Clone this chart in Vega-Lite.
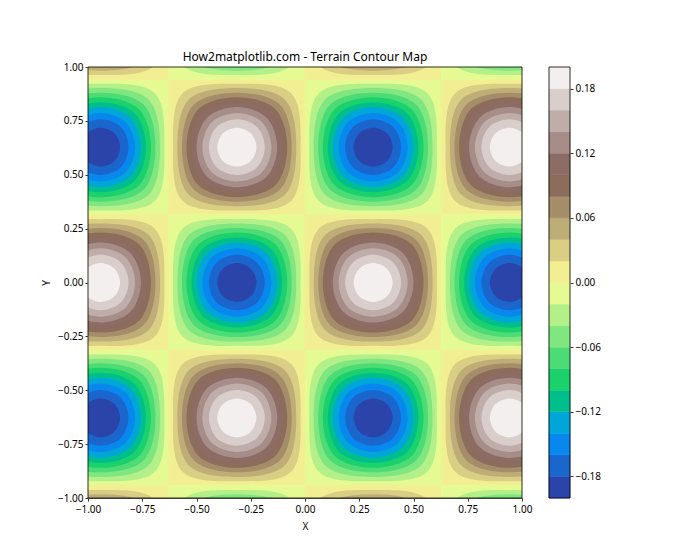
{"$schema":"https://vega.github.io/schema/vega-lite/v6.json","background":"white","padding":{"left":41,"top":51,"right":0,"bottom":0},"spacing":16,
"config":{"font":"Noto Sans","view":{"stroke":null},"axis":{"grid":false,"labelFlush":false,"domainColor":"#000","tickColor":"#000","labelColor":"#000","titleColor":"#000","labelFontSize":10,"titleFontSize":10,"titleFontWeight":"normal","tickSize":3,"labelPadding":2,"titlePadding":6,"domainWidth":0.8,"tickWidth":0.8},"title":{"fontSize":12,"fontWeight":"normal","color":"#000"}},
"datasets":{"frame":[{"x":-1,"x2":1,"y":-1,"y2":1}],"base":[{"x":-1,"x2":-0.628,"y":0.314,"y2":0.942,"b":-0.01},{"x":-0.628,"x2":0,"y":0.314,"y2":0.942,"b":0.01},{"x":0,"x2":0.628,"y":0.314,"y2":0.942,"b":-0.01},{"x":0.628,"x2":1,"y":0.314,"y2":0.942,"b":0.01},{"x":-1,"x2":-0.628,"y":-0.314,"y2":0.314,"b":0.01},{"x":-0.628,"x2":0,"y":-0.314,"y2":0.314,"b":-0.01},{"x":0,"x2":0.628,"y":-0.314,"y2":0.314,"b":0.01},{"x":0.628,"x2":1,"y":-0.314,"y2":0.314,"b":-0.01},{"x":-1,"x2":-0.628,"y":-0.942,"y2":-0.314,"b":-0.01},{"x":-0.628,"x2":0,"y":-0.942,"y2":-0.314,"b":0.01},{"x":0,"x2":0.628,"y":-0.942,"y2":-0.314,"b":-0.01},{"x":0.628,"x2":1,"y":-0.942,"y2":-0.314,"b":0.01},{"x":-1,"x2":-0.628,"y":0.942,"y2":1,"b":0.01},{"x":-0.628,"x2":0,"y":0.942,"y2":1,"b":-0.01},{"x":0,"x2":0.628,"y":0.942,"y2":1,"b":0.01},{"x":0.628,"x2":1,"y":0.942,"y2":1,"b":-0.01},{"x":-1,"x2":-0.628,"y":-1,"y2":-0.942,"b":0.01},{"x":-0.628,"x2":0,"y":-1,"y2":-0.942,"b":-0.01},{"x":0,"x2":0.628,"y":-1,"y2":-0.942,"b":0.01},{"x":0.628,"x2":1,"y":-1,"y2":-0.942,"b":-0.01}],
"lines":[
{"c":11,"b":-0.03,"x":-0.648,"y":0.628},{"c":11,"b":-0.03,"x":-0.692,"y":0.878},{"c":11,"b":-0.03,"x":-0.942,"y":0.922},{"c":11,"b":-0.03,"x":-1.192,"y":0.878},{"c":11,"b":-0.03,"x":-1.236,"y":0.628},{"c":11,"b":-0.03,"x":-1.192,"y":0.378},{"c":11,"b":-0.03,"x":-0.942,"y":0.334},{"c":11,"b":-0.03,"x":-0.692,"y":0.378},
{"c":12,"b":-0.05,"x":-0.668,"y":0.628},{"c":12,"b":-0.05,"x":-0.721,"y":0.849},{"c":12,"b":-0.05,"x":-0.942,"y":0.902},{"c":12,"b":-0.05,"x":-1.163,"y":0.849},{"c":12,"b":-0.05,"x":-1.216,"y":0.628},{"c":12,"b":-0.05,"x":-1.163,"y":0.407},{"c":12,"b":-0.05,"x":-0.942,"y":0.354},{"c":12,"b":-0.05,"x":-0.721,"y":0.407},
{"c":13,"b":-0.07,"x":-0.689,"y":0.628},{"c":13,"b":-0.07,"x":-0.744,"y":0.826},{"c":13,"b":-0.07,"x":-0.942,"y":0.881},{"c":13,"b":-0.07,"x":-1.14,"y":0.826},{"c":13,"b":-0.07,"x":-1.195,"y":0.628},{"c":13,"b":-0.07,"x":-1.14,"y":0.43},{"c":13,"b":-0.07,"x":-0.942,"y":0.375},{"c":13,"b":-0.07,"x":-0.744,"y":0.43},
{"c":14,"b":-0.09,"x":-0.71,"y":0.628},{"c":14,"b":-0.09,"x":-0.765,"y":0.805},{"c":14,"b":-0.09,"x":-0.942,"y":0.86},{"c":14,"b":-0.09,"x":-1.119,"y":0.805},{"c":14,"b":-0.09,"x":-1.174,"y":0.628},{"c":14,"b":-0.09,"x":-1.119,"y":0.451},{"c":14,"b":-0.09,"x":-0.942,"y":0.396},{"c":14,"b":-0.09,"x":-0.765,"y":0.451},
{"c":15,"b":-0.11,"x":-0.733,"y":0.628},{"c":15,"b":-0.11,"x":-0.785,"y":0.785},{"c":15,"b":-0.11,"x":-0.942,"y":0.837},{"c":15,"b":-0.11,"x":-1.099,"y":0.785},{"c":15,"b":-0.11,"x":-1.151,"y":0.628},{"c":15,"b":-0.11,"x":-1.099,"y":0.471},{"c":15,"b":-0.11,"x":-0.942,"y":0.419},{"c":15,"b":-0.11,"x":-0.785,"y":0.471},
{"c":16,"b":-0.13,"x":-0.756,"y":0.628},{"c":16,"b":-0.13,"x":-0.805,"y":0.765},{"c":16,"b":-0.13,"x":-0.942,"y":0.814},{"c":16,"b":-0.13,"x":-1.079,"y":0.765},{"c":16,"b":-0.13,"x":-1.128,"y":0.628},{"c":16,"b":-0.13,"x":-1.079,"y":0.491},{"c":16,"b":-0.13,"x":-0.942,"y":0.442},{"c":16,"b":-0.13,"x":-0.805,"y":0.491},
{"c":17,"b":-0.15,"x":-0.783,"y":0.628},{"c":17,"b":-0.15,"x":-0.826,"y":0.744},{"c":17,"b":-0.15,"x":-0.942,"y":0.787},{"c":17,"b":-0.15,"x":-1.058,"y":0.744},{"c":17,"b":-0.15,"x":-1.101,"y":0.628},{"c":17,"b":-0.15,"x":-1.058,"y":0.512},{"c":17,"b":-0.15,"x":-0.942,"y":0.469},{"c":17,"b":-0.15,"x":-0.826,"y":0.512},
{"c":18,"b":-0.17,"x":-0.813,"y":0.628},{"c":18,"b":-0.17,"x":-0.849,"y":0.721},{"c":18,"b":-0.17,"x":-0.942,"y":0.757},{"c":18,"b":-0.17,"x":-1.035,"y":0.721},{"c":18,"b":-0.17,"x":-1.071,"y":0.628},{"c":18,"b":-0.17,"x":-1.035,"y":0.535},{"c":18,"b":-0.17,"x":-0.942,"y":0.499},{"c":18,"b":-0.17,"x":-0.849,"y":0.535},
{"c":19,"b":-0.19,"x":-0.852,"y":0.628},{"c":19,"b":-0.19,"x":-0.878,"y":0.692},{"c":19,"b":-0.19,"x":-0.942,"y":0.718},{"c":19,"b":-0.19,"x":-1.006,"y":0.692},{"c":19,"b":-0.19,"x":-1.032,"y":0.628},{"c":19,"b":-0.19,"x":-1.006,"y":0.564},{"c":19,"b":-0.19,"x":-0.942,"y":0.538},{"c":19,"b":-0.19,"x":-0.878,"y":0.564},
{"c":21,"b":0.03,"x":-0.02,"y":0.628},{"c":21,"b":0.03,"x":-0.064,"y":0.878},{"c":21,"b":0.03,"x":-0.314,"y":0.922},{"c":21,"b":0.03,"x":-0.564,"y":0.878},{"c":21,"b":0.03,"x":-0.608,"y":0.628},{"c":21,"b":0.03,"x":-0.564,"y":0.378},{"c":21,"b":0.03,"x":-0.314,"y":0.334},{"c":21,"b":0.03,"x":-0.064,"y":0.378},
{"c":22,"b":0.05,"x":-0.04,"y":0.628},{"c":22,"b":0.05,"x":-0.093,"y":0.849},{"c":22,"b":0.05,"x":-0.314,"y":0.902},{"c":22,"b":0.05,"x":-0.535,"y":0.849},{"c":22,"b":0.05,"x":-0.588,"y":0.628},{"c":22,"b":0.05,"x":-0.535,"y":0.407},{"c":22,"b":0.05,"x":-0.314,"y":0.354},{"c":22,"b":0.05,"x":-0.093,"y":0.407},
{"c":23,"b":0.07,"x":-0.061,"y":0.628},{"c":23,"b":0.07,"x":-0.116,"y":0.826},{"c":23,"b":0.07,"x":-0.314,"y":0.881},{"c":23,"b":0.07,"x":-0.512,"y":0.826},{"c":23,"b":0.07,"x":-0.567,"y":0.628},{"c":23,"b":0.07,"x":-0.512,"y":0.43},{"c":23,"b":0.07,"x":-0.314,"y":0.375},{"c":23,"b":0.07,"x":-0.116,"y":0.43},
{"c":24,"b":0.09,"x":-0.082,"y":0.628},{"c":24,"b":0.09,"x":-0.137,"y":0.805},{"c":24,"b":0.09,"x":-0.314,"y":0.86},{"c":24,"b":0.09,"x":-0.491,"y":0.805},{"c":24,"b":0.09,"x":-0.546,"y":0.628},{"c":24,"b":0.09,"x":-0.491,"y":0.451},{"c":24,"b":0.09,"x":-0.314,"y":0.396},{"c":24,"b":0.09,"x":-0.137,"y":0.451},
{"c":25,"b":0.11,"x":-0.105,"y":0.628},{"c":25,"b":0.11,"x":-0.157,"y":0.785},{"c":25,"b":0.11,"x":-0.314,"y":0.837},{"c":25,"b":0.11,"x":-0.471,"y":0.785},{"c":25,"b":0.11,"x":-0.523,"y":0.628},{"c":25,"b":0.11,"x":-0.471,"y":0.471},{"c":25,"b":0.11,"x":-0.314,"y":0.419},{"c":25,"b":0.11,"x":-0.157,"y":0.471},
{"c":26,"b":0.13,"x":-0.128,"y":0.628},{"c":26,"b":0.13,"x":-0.177,"y":0.765},{"c":26,"b":0.13,"x":-0.314,"y":0.814},{"c":26,"b":0.13,"x":-0.451,"y":0.765},{"c":26,"b":0.13,"x":-0.5,"y":0.628},{"c":26,"b":0.13,"x":-0.451,"y":0.491},{"c":26,"b":0.13,"x":-0.314,"y":0.442},{"c":26,"b":0.13,"x":-0.177,"y":0.491},
{"c":27,"b":0.15,"x":-0.155,"y":0.628},{"c":27,"b":0.15,"x":-0.198,"y":0.744},{"c":27,"b":0.15,"x":-0.314,"y":0.787},{"c":27,"b":0.15,"x":-0.43,"y":0.744},{"c":27,"b":0.15,"x":-0.473,"y":0.628},{"c":27,"b":0.15,"x":-0.43,"y":0.512},{"c":27,"b":0.15,"x":-0.314,"y":0.469},{"c":27,"b":0.15,"x":-0.198,"y":0.512},
{"c":28,"b":0.17,"x":-0.185,"y":0.628},{"c":28,"b":0.17,"x":-0.221,"y":0.721},{"c":28,"b":0.17,"x":-0.314,"y":0.757},{"c":28,"b":0.17,"x":-0.407,"y":0.721},{"c":28,"b":0.17,"x":-0.443,"y":0.628},{"c":28,"b":0.17,"x":-0.407,"y":0.535},{"c":28,"b":0.17,"x":-0.314,"y":0.499},{"c":28,"b":0.17,"x":-0.221,"y":0.535},
{"c":29,"b":0.19,"x":-0.224,"y":0.628},{"c":29,"b":0.19,"x":-0.25,"y":0.692},{"c":29,"b":0.19,"x":-0.314,"y":0.718},{"c":29,"b":0.19,"x":-0.378,"y":0.692},{"c":29,"b":0.19,"x":-0.404,"y":0.628},{"c":29,"b":0.19,"x":-0.378,"y":0.564},{"c":29,"b":0.19,"x":-0.314,"y":0.538},{"c":29,"b":0.19,"x":-0.25,"y":0.564},
{"c":31,"b":-0.03,"x":0.608,"y":0.628},{"c":31,"b":-0.03,"x":0.564,"y":0.878},{"c":31,"b":-0.03,"x":0.314,"y":0.922},{"c":31,"b":-0.03,"x":0.064,"y":0.878},{"c":31,"b":-0.03,"x":0.02,"y":0.628},{"c":31,"b":-0.03,"x":0.064,"y":0.378},{"c":31,"b":-0.03,"x":0.314,"y":0.334},{"c":31,"b":-0.03,"x":0.564,"y":0.378},
{"c":32,"b":-0.05,"x":0.588,"y":0.628},{"c":32,"b":-0.05,"x":0.535,"y":0.849},{"c":32,"b":-0.05,"x":0.314,"y":0.902},{"c":32,"b":-0.05,"x":0.093,"y":0.849},{"c":32,"b":-0.05,"x":0.04,"y":0.628},{"c":32,"b":-0.05,"x":0.093,"y":0.407},{"c":32,"b":-0.05,"x":0.314,"y":0.354},{"c":32,"b":-0.05,"x":0.535,"y":0.407},
{"c":33,"b":-0.07,"x":0.567,"y":0.628},{"c":33,"b":-0.07,"x":0.512,"y":0.826},{"c":33,"b":-0.07,"x":0.314,"y":0.881},{"c":33,"b":-0.07,"x":0.116,"y":0.826},{"c":33,"b":-0.07,"x":0.061,"y":0.628},{"c":33,"b":-0.07,"x":0.116,"y":0.43},{"c":33,"b":-0.07,"x":0.314,"y":0.375},{"c":33,"b":-0.07,"x":0.512,"y":0.43},
{"c":34,"b":-0.09,"x":0.546,"y":0.628},{"c":34,"b":-0.09,"x":0.491,"y":0.805},{"c":34,"b":-0.09,"x":0.314,"y":0.86},{"c":34,"b":-0.09,"x":0.137,"y":0.805},{"c":34,"b":-0.09,"x":0.082,"y":0.628},{"c":34,"b":-0.09,"x":0.137,"y":0.451},{"c":34,"b":-0.09,"x":0.314,"y":0.396},{"c":34,"b":-0.09,"x":0.491,"y":0.451},
{"c":35,"b":-0.11,"x":0.523,"y":0.628},{"c":35,"b":-0.11,"x":0.471,"y":0.785},{"c":35,"b":-0.11,"x":0.314,"y":0.837},{"c":35,"b":-0.11,"x":0.157,"y":0.785},{"c":35,"b":-0.11,"x":0.105,"y":0.628},{"c":35,"b":-0.11,"x":0.157,"y":0.471},{"c":35,"b":-0.11,"x":0.314,"y":0.419},{"c":35,"b":-0.11,"x":0.471,"y":0.471},
{"c":36,"b":-0.13,"x":0.5,"y":0.628},{"c":36,"b":-0.13,"x":0.451,"y":0.765},{"c":36,"b":-0.13,"x":0.314,"y":0.814},{"c":36,"b":-0.13,"x":0.177,"y":0.765},{"c":36,"b":-0.13,"x":0.128,"y":0.628},{"c":36,"b":-0.13,"x":0.177,"y":0.491},{"c":36,"b":-0.13,"x":0.314,"y":0.442},{"c":36,"b":-0.13,"x":0.451,"y":0.491},
{"c":37,"b":-0.15,"x":0.473,"y":0.628},{"c":37,"b":-0.15,"x":0.43,"y":0.744},{"c":37,"b":-0.15,"x":0.314,"y":0.787},{"c":37,"b":-0.15,"x":0.198,"y":0.744},{"c":37,"b":-0.15,"x":0.155,"y":0.628},{"c":37,"b":-0.15,"x":0.198,"y":0.512},{"c":37,"b":-0.15,"x":0.314,"y":0.469},{"c":37,"b":-0.15,"x":0.43,"y":0.512},
{"c":38,"b":-0.17,"x":0.443,"y":0.628},{"c":38,"b":-0.17,"x":0.407,"y":0.721},{"c":38,"b":-0.17,"x":0.314,"y":0.757},{"c":38,"b":-0.17,"x":0.221,"y":0.721},{"c":38,"b":-0.17,"x":0.185,"y":0.628},{"c":38,"b":-0.17,"x":0.221,"y":0.535},{"c":38,"b":-0.17,"x":0.314,"y":0.499},{"c":38,"b":-0.17,"x":0.407,"y":0.535},
{"c":39,"b":-0.19,"x":0.404,"y":0.628},{"c":39,"b":-0.19,"x":0.378,"y":0.692},{"c":39,"b":-0.19,"x":0.314,"y":0.718},{"c":39,"b":-0.19,"x":0.25,"y":0.692},{"c":39,"b":-0.19,"x":0.224,"y":0.628},{"c":39,"b":-0.19,"x":0.25,"y":0.564},{"c":39,"b":-0.19,"x":0.314,"y":0.538},{"c":39,"b":-0.19,"x":0.378,"y":0.564},
{"c":41,"b":0.03,"x":1.236,"y":0.628},{"c":41,"b":0.03,"x":1.192,"y":0.878},{"c":41,"b":0.03,"x":0.942,"y":0.922},{"c":41,"b":0.03,"x":0.692,"y":0.878},{"c":41,"b":0.03,"x":0.648,"y":0.628},{"c":41,"b":0.03,"x":0.692,"y":0.378},{"c":41,"b":0.03,"x":0.942,"y":0.334},{"c":41,"b":0.03,"x":1.192,"y":0.378},
{"c":42,"b":0.05,"x":1.216,"y":0.628},{"c":42,"b":0.05,"x":1.163,"y":0.849},{"c":42,"b":0.05,"x":0.942,"y":0.902},{"c":42,"b":0.05,"x":0.721,"y":0.849},{"c":42,"b":0.05,"x":0.668,"y":0.628},{"c":42,"b":0.05,"x":0.721,"y":0.407},{"c":42,"b":0.05,"x":0.942,"y":0.354},{"c":42,"b":0.05,"x":1.163,"y":0.407},
{"c":43,"b":0.07,"x":1.195,"y":0.628},{"c":43,"b":0.07,"x":1.14,"y":0.826},{"c":43,"b":0.07,"x":0.942,"y":0.881},{"c":43,"b":0.07,"x":0.744,"y":0.826},{"c":43,"b":0.07,"x":0.689,"y":0.628},{"c":43,"b":0.07,"x":0.744,"y":0.43},{"c":43,"b":0.07,"x":0.942,"y":0.375},{"c":43,"b":0.07,"x":1.14,"y":0.43},
{"c":44,"b":0.09,"x":1.174,"y":0.628},{"c":44,"b":0.09,"x":1.119,"y":0.805},{"c":44,"b":0.09,"x":0.942,"y":0.86},{"c":44,"b":0.09,"x":0.765,"y":0.805},{"c":44,"b":0.09,"x":0.71,"y":0.628},{"c":44,"b":0.09,"x":0.765,"y":0.451},{"c":44,"b":0.09,"x":0.942,"y":0.396},{"c":44,"b":0.09,"x":1.119,"y":0.451},
{"c":45,"b":0.11,"x":1.151,"y":0.628},{"c":45,"b":0.11,"x":1.099,"y":0.785},{"c":45,"b":0.11,"x":0.942,"y":0.837},{"c":45,"b":0.11,"x":0.785,"y":0.785},{"c":45,"b":0.11,"x":0.733,"y":0.628},{"c":45,"b":0.11,"x":0.785,"y":0.471},{"c":45,"b":0.11,"x":0.942,"y":0.419},{"c":45,"b":0.11,"x":1.099,"y":0.471},
{"c":46,"b":0.13,"x":1.128,"y":0.628},{"c":46,"b":0.13,"x":1.079,"y":0.765},{"c":46,"b":0.13,"x":0.942,"y":0.814},{"c":46,"b":0.13,"x":0.805,"y":0.765},{"c":46,"b":0.13,"x":0.756,"y":0.628},{"c":46,"b":0.13,"x":0.805,"y":0.491},{"c":46,"b":0.13,"x":0.942,"y":0.442},{"c":46,"b":0.13,"x":1.079,"y":0.491},
{"c":47,"b":0.15,"x":1.101,"y":0.628},{"c":47,"b":0.15,"x":1.058,"y":0.744},{"c":47,"b":0.15,"x":0.942,"y":0.787},{"c":47,"b":0.15,"x":0.826,"y":0.744},{"c":47,"b":0.15,"x":0.783,"y":0.628},{"c":47,"b":0.15,"x":0.826,"y":0.512},{"c":47,"b":0.15,"x":0.942,"y":0.469},{"c":47,"b":0.15,"x":1.058,"y":0.512},
{"c":48,"b":0.17,"x":1.071,"y":0.628},{"c":48,"b":0.17,"x":1.035,"y":0.721},{"c":48,"b":0.17,"x":0.942,"y":0.757},{"c":48,"b":0.17,"x":0.849,"y":0.721},{"c":48,"b":0.17,"x":0.813,"y":0.628},{"c":48,"b":0.17,"x":0.849,"y":0.535},{"c":48,"b":0.17,"x":0.942,"y":0.499},{"c":48,"b":0.17,"x":1.035,"y":0.535},
{"c":49,"b":0.19,"x":1.032,"y":0.628},{"c":49,"b":0.19,"x":1.006,"y":0.692},{"c":49,"b":0.19,"x":0.942,"y":0.718},{"c":49,"b":0.19,"x":0.878,"y":0.692},{"c":49,"b":0.19,"x":0.852,"y":0.628},{"c":49,"b":0.19,"x":0.878,"y":0.564},{"c":49,"b":0.19,"x":0.942,"y":0.538},{"c":49,"b":0.19,"x":1.006,"y":0.564},
{"c":51,"b":0.03,"x":-0.648,"y":0},{"c":51,"b":0.03,"x":-0.692,"y":0.25},{"c":51,"b":0.03,"x":-0.942,"y":0.294},{"c":51,"b":0.03,"x":-1.192,"y":0.25},{"c":51,"b":0.03,"x":-1.236,"y":0},{"c":51,"b":0.03,"x":-1.192,"y":-0.25},{"c":51,"b":0.03,"x":-0.942,"y":-0.294},{"c":51,"b":0.03,"x":-0.692,"y":-0.25},
{"c":52,"b":0.05,"x":-0.668,"y":0},{"c":52,"b":0.05,"x":-0.721,"y":0.221},{"c":52,"b":0.05,"x":-0.942,"y":0.274},{"c":52,"b":0.05,"x":-1.163,"y":0.221},{"c":52,"b":0.05,"x":-1.216,"y":0},{"c":52,"b":0.05,"x":-1.163,"y":-0.221},{"c":52,"b":0.05,"x":-0.942,"y":-0.274},{"c":52,"b":0.05,"x":-0.721,"y":-0.221},
{"c":53,"b":0.07,"x":-0.689,"y":0},{"c":53,"b":0.07,"x":-0.744,"y":0.198},{"c":53,"b":0.07,"x":-0.942,"y":0.253},{"c":53,"b":0.07,"x":-1.14,"y":0.198},{"c":53,"b":0.07,"x":-1.195,"y":0},{"c":53,"b":0.07,"x":-1.14,"y":-0.198},{"c":53,"b":0.07,"x":-0.942,"y":-0.253},{"c":53,"b":0.07,"x":-0.744,"y":-0.198},
{"c":54,"b":0.09,"x":-0.71,"y":0},{"c":54,"b":0.09,"x":-0.765,"y":0.177},{"c":54,"b":0.09,"x":-0.942,"y":0.232},{"c":54,"b":0.09,"x":-1.119,"y":0.177},{"c":54,"b":0.09,"x":-1.174,"y":0},{"c":54,"b":0.09,"x":-1.119,"y":-0.177},{"c":54,"b":0.09,"x":-0.942,"y":-0.232},{"c":54,"b":0.09,"x":-0.765,"y":-0.177},
{"c":55,"b":0.11,"x":-0.733,"y":0},{"c":55,"b":0.11,"x":-0.785,"y":0.157},{"c":55,"b":0.11,"x":-0.942,"y":0.209},{"c":55,"b":0.11,"x":-1.099,"y":0.157},{"c":55,"b":0.11,"x":-1.151,"y":0},{"c":55,"b":0.11,"x":-1.099,"y":-0.157},{"c":55,"b":0.11,"x":-0.942,"y":-0.209},{"c":55,"b":0.11,"x":-0.785,"y":-0.157},
{"c":56,"b":0.13,"x":-0.756,"y":0},{"c":56,"b":0.13,"x":-0.805,"y":0.137},{"c":56,"b":0.13,"x":-0.942,"y":0.186},{"c":56,"b":0.13,"x":-1.079,"y":0.137},{"c":56,"b":0.13,"x":-1.128,"y":0},{"c":56,"b":0.13,"x":-1.079,"y":-0.137},{"c":56,"b":0.13,"x":-0.942,"y":-0.186},{"c":56,"b":0.13,"x":-0.805,"y":-0.137},
{"c":57,"b":0.15,"x":-0.783,"y":0},{"c":57,"b":0.15,"x":-0.826,"y":0.116},{"c":57,"b":0.15,"x":-0.942,"y":0.159},{"c":57,"b":0.15,"x":-1.058,"y":0.116},{"c":57,"b":0.15,"x":-1.101,"y":0},{"c":57,"b":0.15,"x":-1.058,"y":-0.116},{"c":57,"b":0.15,"x":-0.942,"y":-0.159},{"c":57,"b":0.15,"x":-0.826,"y":-0.116},
{"c":58,"b":0.17,"x":-0.813,"y":0},{"c":58,"b":0.17,"x":-0.849,"y":0.093},{"c":58,"b":0.17,"x":-0.942,"y":0.129},{"c":58,"b":0.17,"x":-1.035,"y":0.093},{"c":58,"b":0.17,"x":-1.071,"y":0},{"c":58,"b":0.17,"x":-1.035,"y":-0.093},{"c":58,"b":0.17,"x":-0.942,"y":-0.129},{"c":58,"b":0.17,"x":-0.849,"y":-0.093},
{"c":59,"b":0.19,"x":-0.852,"y":0},{"c":59,"b":0.19,"x":-0.878,"y":0.064},{"c":59,"b":0.19,"x":-0.942,"y":0.09},{"c":59,"b":0.19,"x":-1.006,"y":0.064},{"c":59,"b":0.19,"x":-1.032,"y":0},{"c":59,"b":0.19,"x":-1.006,"y":-0.064},{"c":59,"b":0.19,"x":-0.942,"y":-0.09},{"c":59,"b":0.19,"x":-0.878,"y":-0.064},
{"c":61,"b":-0.03,"x":-0.02,"y":0},{"c":61,"b":-0.03,"x":-0.064,"y":0.25},{"c":61,"b":-0.03,"x":-0.314,"y":0.294},{"c":61,"b":-0.03,"x":-0.564,"y":0.25},{"c":61,"b":-0.03,"x":-0.608,"y":0},{"c":61,"b":-0.03,"x":-0.564,"y":-0.25},{"c":61,"b":-0.03,"x":-0.314,"y":-0.294},{"c":61,"b":-0.03,"x":-0.064,"y":-0.25},
{"c":62,"b":-0.05,"x":-0.04,"y":0},{"c":62,"b":-0.05,"x":-0.093,"y":0.221},{"c":62,"b":-0.05,"x":-0.314,"y":0.274},{"c":62,"b":-0.05,"x":-0.535,"y":0.221},{"c":62,"b":-0.05,"x":-0.588,"y":0},{"c":62,"b":-0.05,"x":-0.535,"y":-0.221},{"c":62,"b":-0.05,"x":-0.314,"y":-0.274},{"c":62,"b":-0.05,"x":-0.093,"y":-0.221},
{"c":63,"b":-0.07,"x":-0.061,"y":0},{"c":63,"b":-0.07,"x":-0.116,"y":0.198},{"c":63,"b":-0.07,"x":-0.314,"y":0.253},{"c":63,"b":-0.07,"x":-0.512,"y":0.198},{"c":63,"b":-0.07,"x":-0.567,"y":0},{"c":63,"b":-0.07,"x":-0.512,"y":-0.198},{"c":63,"b":-0.07,"x":-0.314,"y":-0.253},{"c":63,"b":-0.07,"x":-0.116,"y":-0.198},
{"c":64,"b":-0.09,"x":-0.082,"y":0},{"c":64,"b":-0.09,"x":-0.137,"y":0.177},{"c":64,"b":-0.09,"x":-0.314,"y":0.232},{"c":64,"b":-0.09,"x":-0.491,"y":0.177},{"c":64,"b":-0.09,"x":-0.546,"y":0},{"c":64,"b":-0.09,"x":-0.491,"y":-0.177},{"c":64,"b":-0.09,"x":-0.314,"y":-0.232},{"c":64,"b":-0.09,"x":-0.137,"y":-0.177},
{"c":65,"b":-0.11,"x":-0.105,"y":0},{"c":65,"b":-0.11,"x":-0.157,"y":0.157},{"c":65,"b":-0.11,"x":-0.314,"y":0.209},{"c":65,"b":-0.11,"x":-0.471,"y":0.157},{"c":65,"b":-0.11,"x":-0.523,"y":0},{"c":65,"b":-0.11,"x":-0.471,"y":-0.157},{"c":65,"b":-0.11,"x":-0.314,"y":-0.209},{"c":65,"b":-0.11,"x":-0.157,"y":-0.157},
{"c":66,"b":-0.13,"x":-0.128,"y":0},{"c":66,"b":-0.13,"x":-0.177,"y":0.137},{"c":66,"b":-0.13,"x":-0.314,"y":0.186},{"c":66,"b":-0.13,"x":-0.451,"y":0.137},{"c":66,"b":-0.13,"x":-0.5,"y":0},{"c":66,"b":-0.13,"x":-0.451,"y":-0.137},{"c":66,"b":-0.13,"x":-0.314,"y":-0.186},{"c":66,"b":-0.13,"x":-0.177,"y":-0.137},
{"c":67,"b":-0.15,"x":-0.155,"y":0},{"c":67,"b":-0.15,"x":-0.198,"y":0.116},{"c":67,"b":-0.15,"x":-0.314,"y":0.159},{"c":67,"b":-0.15,"x":-0.43,"y":0.116},{"c":67,"b":-0.15,"x":-0.473,"y":0},{"c":67,"b":-0.15,"x":-0.43,"y":-0.116},{"c":67,"b":-0.15,"x":-0.314,"y":-0.159},{"c":67,"b":-0.15,"x":-0.198,"y":-0.116},
{"c":68,"b":-0.17,"x":-0.185,"y":0},{"c":68,"b":-0.17,"x":-0.221,"y":0.093},{"c":68,"b":-0.17,"x":-0.314,"y":0.129},{"c":68,"b":-0.17,"x":-0.407,"y":0.093},{"c":68,"b":-0.17,"x":-0.443,"y":0},{"c":68,"b":-0.17,"x":-0.407,"y":-0.093},{"c":68,"b":-0.17,"x":-0.314,"y":-0.129},{"c":68,"b":-0.17,"x":-0.221,"y":-0.093},
{"c":69,"b":-0.19,"x":-0.224,"y":0},{"c":69,"b":-0.19,"x":-0.25,"y":0.064},{"c":69,"b":-0.19,"x":-0.314,"y":0.09},{"c":69,"b":-0.19,"x":-0.378,"y":0.064},{"c":69,"b":-0.19,"x":-0.404,"y":0},{"c":69,"b":-0.19,"x":-0.378,"y":-0.064},{"c":69,"b":-0.19,"x":-0.314,"y":-0.09},{"c":69,"b":-0.19,"x":-0.25,"y":-0.064},
{"c":71,"b":0.03,"x":0.608,"y":0},{"c":71,"b":0.03,"x":0.564,"y":0.25},{"c":71,"b":0.03,"x":0.314,"y":0.294},{"c":71,"b":0.03,"x":0.064,"y":0.25},{"c":71,"b":0.03,"x":0.02,"y":0},{"c":71,"b":0.03,"x":0.064,"y":-0.25},{"c":71,"b":0.03,"x":0.314,"y":-0.294},{"c":71,"b":0.03,"x":0.564,"y":-0.25},
{"c":72,"b":0.05,"x":0.588,"y":0},{"c":72,"b":0.05,"x":0.535,"y":0.221},{"c":72,"b":0.05,"x":0.314,"y":0.274},{"c":72,"b":0.05,"x":0.093,"y":0.221},{"c":72,"b":0.05,"x":0.04,"y":0},{"c":72,"b":0.05,"x":0.093,"y":-0.221},{"c":72,"b":0.05,"x":0.314,"y":-0.274},{"c":72,"b":0.05,"x":0.535,"y":-0.221},
{"c":73,"b":0.07,"x":0.567,"y":0},{"c":73,"b":0.07,"x":0.512,"y":0.198},{"c":73,"b":0.07,"x":0.314,"y":0.253},{"c":73,"b":0.07,"x":0.116,"y":0.198},{"c":73,"b":0.07,"x":0.061,"y":0},{"c":73,"b":0.07,"x":0.116,"y":-0.198},{"c":73,"b":0.07,"x":0.314,"y":-0.253},{"c":73,"b":0.07,"x":0.512,"y":-0.198},
{"c":74,"b":0.09,"x":0.546,"y":0},{"c":74,"b":0.09,"x":0.491,"y":0.177},{"c":74,"b":0.09,"x":0.314,"y":0.232},{"c":74,"b":0.09,"x":0.137,"y":0.177},{"c":74,"b":0.09,"x":0.082,"y":0},{"c":74,"b":0.09,"x":0.137,"y":-0.177},{"c":74,"b":0.09,"x":0.314,"y":-0.232},{"c":74,"b":0.09,"x":0.491,"y":-0.177},
{"c":75,"b":0.11,"x":0.523,"y":0},{"c":75,"b":0.11,"x":0.471,"y":0.157},{"c":75,"b":0.11,"x":0.314,"y":0.209},{"c":75,"b":0.11,"x":0.157,"y":0.157},{"c":75,"b":0.11,"x":0.105,"y":0},{"c":75,"b":0.11,"x":0.157,"y":-0.157},{"c":75,"b":0.11,"x":0.314,"y":-0.209},{"c":75,"b":0.11,"x":0.471,"y":-0.157},
{"c":76,"b":0.13,"x":0.5,"y":0},{"c":76,"b":0.13,"x":0.451,"y":0.137},{"c":76,"b":0.13,"x":0.314,"y":0.186},{"c":76,"b":0.13,"x":0.177,"y":0.137},{"c":76,"b":0.13,"x":0.128,"y":0},{"c":76,"b":0.13,"x":0.177,"y":-0.137},{"c":76,"b":0.13,"x":0.314,"y":-0.186},{"c":76,"b":0.13,"x":0.451,"y":-0.137},
{"c":77,"b":0.15,"x":0.473,"y":0},{"c":77,"b":0.15,"x":0.43,"y":0.116},{"c":77,"b":0.15,"x":0.314,"y":0.159},{"c":77,"b":0.15,"x":0.198,"y":0.116},{"c":77,"b":0.15,"x":0.155,"y":0},{"c":77,"b":0.15,"x":0.198,"y":-0.116},{"c":77,"b":0.15,"x":0.314,"y":-0.159},{"c":77,"b":0.15,"x":0.43,"y":-0.116},
{"c":78,"b":0.17,"x":0.443,"y":0},{"c":78,"b":0.17,"x":0.407,"y":0.093},{"c":78,"b":0.17,"x":0.314,"y":0.129},{"c":78,"b":0.17,"x":0.221,"y":0.093},{"c":78,"b":0.17,"x":0.185,"y":0},{"c":78,"b":0.17,"x":0.221,"y":-0.093},{"c":78,"b":0.17,"x":0.314,"y":-0.129},{"c":78,"b":0.17,"x":0.407,"y":-0.093},
{"c":79,"b":0.19,"x":0.404,"y":0},{"c":79,"b":0.19,"x":0.378,"y":0.064},{"c":79,"b":0.19,"x":0.314,"y":0.09},{"c":79,"b":0.19,"x":0.25,"y":0.064},{"c":79,"b":0.19,"x":0.224,"y":0},{"c":79,"b":0.19,"x":0.25,"y":-0.064},{"c":79,"b":0.19,"x":0.314,"y":-0.09},{"c":79,"b":0.19,"x":0.378,"y":-0.064},
{"c":81,"b":-0.03,"x":1.236,"y":0},{"c":81,"b":-0.03,"x":1.192,"y":0.25},{"c":81,"b":-0.03,"x":0.942,"y":0.294},{"c":81,"b":-0.03,"x":0.692,"y":0.25},{"c":81,"b":-0.03,"x":0.648,"y":0},{"c":81,"b":-0.03,"x":0.692,"y":-0.25},{"c":81,"b":-0.03,"x":0.942,"y":-0.294},{"c":81,"b":-0.03,"x":1.192,"y":-0.25},
{"c":82,"b":-0.05,"x":1.216,"y":0},{"c":82,"b":-0.05,"x":1.163,"y":0.221},{"c":82,"b":-0.05,"x":0.942,"y":0.274},{"c":82,"b":-0.05,"x":0.721,"y":0.221},{"c":82,"b":-0.05,"x":0.668,"y":0},{"c":82,"b":-0.05,"x":0.721,"y":-0.221},{"c":82,"b":-0.05,"x":0.942,"y":-0.274},{"c":82,"b":-0.05,"x":1.163,"y":-0.221},
{"c":83,"b":-0.07,"x":1.195,"y":0},{"c":83,"b":-0.07,"x":1.14,"y":0.198},{"c":83,"b":-0.07,"x":0.942,"y":0.253},{"c":83,"b":-0.07,"x":0.744,"y":0.198},{"c":83,"b":-0.07,"x":0.689,"y":0},{"c":83,"b":-0.07,"x":0.744,"y":-0.198},{"c":83,"b":-0.07,"x":0.942,"y":-0.253},{"c":83,"b":-0.07,"x":1.14,"y":-0.198},
{"c":84,"b":-0.09,"x":1.174,"y":0},{"c":84,"b":-0.09,"x":1.119,"y":0.177},{"c":84,"b":-0.09,"x":0.942,"y":0.232},{"c":84,"b":-0.09,"x":0.765,"y":0.177},{"c":84,"b":-0.09,"x":0.71,"y":0},{"c":84,"b":-0.09,"x":0.765,"y":-0.177},{"c":84,"b":-0.09,"x":0.942,"y":-0.232},{"c":84,"b":-0.09,"x":1.119,"y":-0.177},
{"c":85,"b":-0.11,"x":1.151,"y":0},{"c":85,"b":-0.11,"x":1.099,"y":0.157},{"c":85,"b":-0.11,"x":0.942,"y":0.209},{"c":85,"b":-0.11,"x":0.785,"y":0.157},{"c":85,"b":-0.11,"x":0.733,"y":0},{"c":85,"b":-0.11,"x":0.785,"y":-0.157},{"c":85,"b":-0.11,"x":0.942,"y":-0.209},{"c":85,"b":-0.11,"x":1.099,"y":-0.157},
{"c":86,"b":-0.13,"x":1.128,"y":0},{"c":86,"b":-0.13,"x":1.079,"y":0.137},{"c":86,"b":-0.13,"x":0.942,"y":0.186},{"c":86,"b":-0.13,"x":0.805,"y":0.137},{"c":86,"b":-0.13,"x":0.756,"y":0},{"c":86,"b":-0.13,"x":0.805,"y":-0.137},{"c":86,"b":-0.13,"x":0.942,"y":-0.186},{"c":86,"b":-0.13,"x":1.079,"y":-0.137},
{"c":87,"b":-0.15,"x":1.101,"y":0},{"c":87,"b":-0.15,"x":1.058,"y":0.116},{"c":87,"b":-0.15,"x":0.942,"y":0.159},{"c":87,"b":-0.15,"x":0.826,"y":0.116},{"c":87,"b":-0.15,"x":0.783,"y":0},{"c":87,"b":-0.15,"x":0.826,"y":-0.116},{"c":87,"b":-0.15,"x":0.942,"y":-0.159},{"c":87,"b":-0.15,"x":1.058,"y":-0.116},
{"c":88,"b":-0.17,"x":1.071,"y":0},{"c":88,"b":-0.17,"x":1.035,"y":0.093},{"c":88,"b":-0.17,"x":0.942,"y":0.129},{"c":88,"b":-0.17,"x":0.849,"y":0.093},{"c":88,"b":-0.17,"x":0.813,"y":0},{"c":88,"b":-0.17,"x":0.849,"y":-0.093},{"c":88,"b":-0.17,"x":0.942,"y":-0.129},{"c":88,"b":-0.17,"x":1.035,"y":-0.093},
{"c":89,"b":-0.19,"x":1.032,"y":0},{"c":89,"b":-0.19,"x":1.006,"y":0.064},{"c":89,"b":-0.19,"x":0.942,"y":0.09},{"c":89,"b":-0.19,"x":0.878,"y":0.064},{"c":89,"b":-0.19,"x":0.852,"y":0},{"c":89,"b":-0.19,"x":0.878,"y":-0.064},{"c":89,"b":-0.19,"x":0.942,"y":-0.09},{"c":89,"b":-0.19,"x":1.006,"y":-0.064},
{"c":91,"b":-0.03,"x":-0.648,"y":-0.628},{"c":91,"b":-0.03,"x":-0.692,"y":-0.378},{"c":91,"b":-0.03,"x":-0.942,"y":-0.334},{"c":91,"b":-0.03,"x":-1.192,"y":-0.378},{"c":91,"b":-0.03,"x":-1.236,"y":-0.628},{"c":91,"b":-0.03,"x":-1.192,"y":-0.878},{"c":91,"b":-0.03,"x":-0.942,"y":-0.922},{"c":91,"b":-0.03,"x":-0.692,"y":-0.878},
{"c":92,"b":-0.05,"x":-0.668,"y":-0.628},{"c":92,"b":-0.05,"x":-0.721,"y":-0.407},{"c":92,"b":-0.05,"x":-0.942,"y":-0.354},{"c":92,"b":-0.05,"x":-1.163,"y":-0.407},{"c":92,"b":-0.05,"x":-1.216,"y":-0.628},{"c":92,"b":-0.05,"x":-1.163,"y":-0.849},{"c":92,"b":-0.05,"x":-0.942,"y":-0.902},{"c":92,"b":-0.05,"x":-0.721,"y":-0.849},
{"c":93,"b":-0.07,"x":-0.689,"y":-0.628},{"c":93,"b":-0.07,"x":-0.744,"y":-0.43},{"c":93,"b":-0.07,"x":-0.942,"y":-0.375},{"c":93,"b":-0.07,"x":-1.14,"y":-0.43},{"c":93,"b":-0.07,"x":-1.195,"y":-0.628},{"c":93,"b":-0.07,"x":-1.14,"y":-0.826},{"c":93,"b":-0.07,"x":-0.942,"y":-0.881},{"c":93,"b":-0.07,"x":-0.744,"y":-0.826},
{"c":94,"b":-0.09,"x":-0.71,"y":-0.628},{"c":94,"b":-0.09,"x":-0.765,"y":-0.451},{"c":94,"b":-0.09,"x":-0.942,"y":-0.396},{"c":94,"b":-0.09,"x":-1.119,"y":-0.451},{"c":94,"b":-0.09,"x":-1.174,"y":-0.628},{"c":94,"b":-0.09,"x":-1.119,"y":-0.805},{"c":94,"b":-0.09,"x":-0.942,"y":-0.86},{"c":94,"b":-0.09,"x":-0.765,"y":-0.805},
{"c":95,"b":-0.11,"x":-0.733,"y":-0.628},{"c":95,"b":-0.11,"x":-0.785,"y":-0.471},{"c":95,"b":-0.11,"x":-0.942,"y":-0.419},{"c":95,"b":-0.11,"x":-1.099,"y":-0.471},{"c":95,"b":-0.11,"x":-1.151,"y":-0.628},{"c":95,"b":-0.11,"x":-1.099,"y":-0.785},{"c":95,"b":-0.11,"x":-0.942,"y":-0.837},{"c":95,"b":-0.11,"x":-0.785,"y":-0.785},
{"c":96,"b":-0.13,"x":-0.756,"y":-0.628},{"c":96,"b":-0.13,"x":-0.805,"y":-0.491},{"c":96,"b":-0.13,"x":-0.942,"y":-0.442},{"c":96,"b":-0.13,"x":-1.079,"y":-0.491},{"c":96,"b":-0.13,"x":-1.128,"y":-0.628},{"c":96,"b":-0.13,"x":-1.079,"y":-0.765},{"c":96,"b":-0.13,"x":-0.942,"y":-0.814},{"c":96,"b":-0.13,"x":-0.805,"y":-0.765},
{"c":97,"b":-0.15,"x":-0.783,"y":-0.628},{"c":97,"b":-0.15,"x":-0.826,"y":-0.512},{"c":97,"b":-0.15,"x":-0.942,"y":-0.469},{"c":97,"b":-0.15,"x":-1.058,"y":-0.512},{"c":97,"b":-0.15,"x":-1.101,"y":-0.628},{"c":97,"b":-0.15,"x":-1.058,"y":-0.744},{"c":97,"b":-0.15,"x":-0.942,"y":-0.787},{"c":97,"b":-0.15,"x":-0.826,"y":-0.744},
{"c":98,"b":-0.17,"x":-0.813,"y":-0.628},{"c":98,"b":-0.17,"x":-0.849,"y":-0.535},{"c":98,"b":-0.17,"x":-0.942,"y":-0.499},{"c":98,"b":-0.17,"x":-1.035,"y":-0.535},{"c":98,"b":-0.17,"x":-1.071,"y":-0.628},{"c":98,"b":-0.17,"x":-1.035,"y":-0.721},{"c":98,"b":-0.17,"x":-0.942,"y":-0.757},{"c":98,"b":-0.17,"x":-0.849,"y":-0.721},
{"c":99,"b":-0.19,"x":-0.852,"y":-0.628},{"c":99,"b":-0.19,"x":-0.878,"y":-0.564},{"c":99,"b":-0.19,"x":-0.942,"y":-0.538},{"c":99,"b":-0.19,"x":-1.006,"y":-0.564},{"c":99,"b":-0.19,"x":-1.032,"y":-0.628},{"c":99,"b":-0.19,"x":-1.006,"y":-0.692},{"c":99,"b":-0.19,"x":-0.942,"y":-0.718},{"c":99,"b":-0.19,"x":-0.878,"y":-0.692},
{"c":101,"b":0.03,"x":-0.02,"y":-0.628},{"c":101,"b":0.03,"x":-0.064,"y":-0.378},{"c":101,"b":0.03,"x":-0.314,"y":-0.334},{"c":101,"b":0.03,"x":-0.564,"y":-0.378},{"c":101,"b":0.03,"x":-0.608,"y":-0.628},{"c":101,"b":0.03,"x":-0.564,"y":-0.878},{"c":101,"b":0.03,"x":-0.314,"y":-0.922},{"c":101,"b":0.03,"x":-0.064,"y":-0.878},
{"c":102,"b":0.05,"x":-0.04,"y":-0.628},{"c":102,"b":0.05,"x":-0.093,"y":-0.407},{"c":102,"b":0.05,"x":-0.314,"y":-0.354},{"c":102,"b":0.05,"x":-0.535,"y":-0.407},{"c":102,"b":0.05,"x":-0.588,"y":-0.628},{"c":102,"b":0.05,"x":-0.535,"y":-0.849},{"c":102,"b":0.05,"x":-0.314,"y":-0.902},{"c":102,"b":0.05,"x":-0.093,"y":-0.849},
{"c":103,"b":0.07,"x":-0.061,"y":-0.628},{"c":103,"b":0.07,"x":-0.116,"y":-0.43},{"c":103,"b":0.07,"x":-0.314,"y":-0.375},{"c":103,"b":0.07,"x":-0.512,"y":-0.43},{"c":103,"b":0.07,"x":-0.567,"y":-0.628},{"c":103,"b":0.07,"x":-0.512,"y":-0.826},{"c":103,"b":0.07,"x":-0.314,"y":-0.881},{"c":103,"b":0.07,"x":-0.116,"y":-0.826},
{"c":104,"b":0.09,"x":-0.082,"y":-0.628},{"c":104,"b":0.09,"x":-0.137,"y":-0.451},{"c":104,"b":0.09,"x":-0.314,"y":-0.396},{"c":104,"b":0.09,"x":-0.491,"y":-0.451},{"c":104,"b":0.09,"x":-0.546,"y":-0.628},{"c":104,"b":0.09,"x":-0.491,"y":-0.805},{"c":104,"b":0.09,"x":-0.314,"y":-0.86},{"c":104,"b":0.09,"x":-0.137,"y":-0.805},
{"c":105,"b":0.11,"x":-0.105,"y":-0.628},{"c":105,"b":0.11,"x":-0.157,"y":-0.471},{"c":105,"b":0.11,"x":-0.314,"y":-0.419},{"c":105,"b":0.11,"x":-0.471,"y":-0.471},{"c":105,"b":0.11,"x":-0.523,"y":-0.628},{"c":105,"b":0.11,"x":-0.471,"y":-0.785},{"c":105,"b":0.11,"x":-0.314,"y":-0.837},{"c":105,"b":0.11,"x":-0.157,"y":-0.785},
{"c":106,"b":0.13,"x":-0.128,"y":-0.628},{"c":106,"b":0.13,"x":-0.177,"y":-0.491},{"c":106,"b":0.13,"x":-0.314,"y":-0.442},{"c":106,"b":0.13,"x":-0.451,"y":-0.491},{"c":106,"b":0.13,"x":-0.5,"y":-0.628},{"c":106,"b":0.13,"x":-0.451,"y":-0.765},{"c":106,"b":0.13,"x":-0.314,"y":-0.814},{"c":106,"b":0.13,"x":-0.177,"y":-0.765},
{"c":107,"b":0.15,"x":-0.155,"y":-0.628},{"c":107,"b":0.15,"x":-0.198,"y":-0.512},{"c":107,"b":0.15,"x":-0.314,"y":-0.469},{"c":107,"b":0.15,"x":-0.43,"y":-0.512},{"c":107,"b":0.15,"x":-0.473,"y":-0.628},{"c":107,"b":0.15,"x":-0.43,"y":-0.744},{"c":107,"b":0.15,"x":-0.314,"y":-0.787},{"c":107,"b":0.15,"x":-0.198,"y":-0.744},
{"c":108,"b":0.17,"x":-0.185,"y":-0.628},{"c":108,"b":0.17,"x":-0.221,"y":-0.535},{"c":108,"b":0.17,"x":-0.314,"y":-0.499},{"c":108,"b":0.17,"x":-0.407,"y":-0.535},{"c":108,"b":0.17,"x":-0.443,"y":-0.628},{"c":108,"b":0.17,"x":-0.407,"y":-0.721},{"c":108,"b":0.17,"x":-0.314,"y":-0.757},{"c":108,"b":0.17,"x":-0.221,"y":-0.721},
{"c":109,"b":0.19,"x":-0.224,"y":-0.628},{"c":109,"b":0.19,"x":-0.25,"y":-0.564},{"c":109,"b":0.19,"x":-0.314,"y":-0.538},{"c":109,"b":0.19,"x":-0.378,"y":-0.564},{"c":109,"b":0.19,"x":-0.404,"y":-0.628},{"c":109,"b":0.19,"x":-0.378,"y":-0.692},{"c":109,"b":0.19,"x":-0.314,"y":-0.718},{"c":109,"b":0.19,"x":-0.25,"y":-0.692},
{"c":111,"b":-0.03,"x":0.608,"y":-0.628},{"c":111,"b":-0.03,"x":0.564,"y":-0.378},{"c":111,"b":-0.03,"x":0.314,"y":-0.334},{"c":111,"b":-0.03,"x":0.064,"y":-0.378},{"c":111,"b":-0.03,"x":0.02,"y":-0.628},{"c":111,"b":-0.03,"x":0.064,"y":-0.878},{"c":111,"b":-0.03,"x":0.314,"y":-0.922},{"c":111,"b":-0.03,"x":0.564,"y":-0.878},
{"c":112,"b":-0.05,"x":0.588,"y":-0.628},{"c":112,"b":-0.05,"x":0.535,"y":-0.407},{"c":112,"b":-0.05,"x":0.314,"y":-0.354},{"c":112,"b":-0.05,"x":0.093,"y":-0.407},{"c":112,"b":-0.05,"x":0.04,"y":-0.628},{"c":112,"b":-0.05,"x":0.093,"y":-0.849},{"c":112,"b":-0.05,"x":0.314,"y":-0.902},{"c":112,"b":-0.05,"x":0.535,"y":-0.849},
{"c":113,"b":-0.07,"x":0.567,"y":-0.628},{"c":113,"b":-0.07,"x":0.512,"y":-0.43},{"c":113,"b":-0.07,"x":0.314,"y":-0.375},{"c":113,"b":-0.07,"x":0.116,"y":-0.43},{"c":113,"b":-0.07,"x":0.061,"y":-0.628},{"c":113,"b":-0.07,"x":0.116,"y":-0.826},{"c":113,"b":-0.07,"x":0.314,"y":-0.881},{"c":113,"b":-0.07,"x":0.512,"y":-0.826},
{"c":114,"b":-0.09,"x":0.546,"y":-0.628},{"c":114,"b":-0.09,"x":0.491,"y":-0.451},{"c":114,"b":-0.09,"x":0.314,"y":-0.396},{"c":114,"b":-0.09,"x":0.137,"y":-0.451},{"c":114,"b":-0.09,"x":0.082,"y":-0.628},{"c":114,"b":-0.09,"x":0.137,"y":-0.805},{"c":114,"b":-0.09,"x":0.314,"y":-0.86},{"c":114,"b":-0.09,"x":0.491,"y":-0.805},
{"c":115,"b":-0.11,"x":0.523,"y":-0.628},{"c":115,"b":-0.11,"x":0.471,"y":-0.471},{"c":115,"b":-0.11,"x":0.314,"y":-0.419},{"c":115,"b":-0.11,"x":0.157,"y":-0.471},{"c":115,"b":-0.11,"x":0.105,"y":-0.628},{"c":115,"b":-0.11,"x":0.157,"y":-0.785},{"c":115,"b":-0.11,"x":0.314,"y":-0.837},{"c":115,"b":-0.11,"x":0.471,"y":-0.785},
{"c":116,"b":-0.13,"x":0.5,"y":-0.628},{"c":116,"b":-0.13,"x":0.451,"y":-0.491},{"c":116,"b":-0.13,"x":0.314,"y":-0.442},{"c":116,"b":-0.13,"x":0.177,"y":-0.491},{"c":116,"b":-0.13,"x":0.128,"y":-0.628},{"c":116,"b":-0.13,"x":0.177,"y":-0.765},{"c":116,"b":-0.13,"x":0.314,"y":-0.814},{"c":116,"b":-0.13,"x":0.451,"y":-0.765},
{"c":117,"b":-0.15,"x":0.473,"y":-0.628},{"c":117,"b":-0.15,"x":0.43,"y":-0.512},{"c":117,"b":-0.15,"x":0.314,"y":-0.469},{"c":117,"b":-0.15,"x":0.198,"y":-0.512},{"c":117,"b":-0.15,"x":0.155,"y":-0.628},{"c":117,"b":-0.15,"x":0.198,"y":-0.744},{"c":117,"b":-0.15,"x":0.314,"y":-0.787},{"c":117,"b":-0.15,"x":0.43,"y":-0.744},
{"c":118,"b":-0.17,"x":0.443,"y":-0.628},{"c":118,"b":-0.17,"x":0.407,"y":-0.535},{"c":118,"b":-0.17,"x":0.314,"y":-0.499},{"c":118,"b":-0.17,"x":0.221,"y":-0.535},{"c":118,"b":-0.17,"x":0.185,"y":-0.628},{"c":118,"b":-0.17,"x":0.221,"y":-0.721},{"c":118,"b":-0.17,"x":0.314,"y":-0.757},{"c":118,"b":-0.17,"x":0.407,"y":-0.721},
{"c":119,"b":-0.19,"x":0.404,"y":-0.628},{"c":119,"b":-0.19,"x":0.378,"y":-0.564},{"c":119,"b":-0.19,"x":0.314,"y":-0.538},{"c":119,"b":-0.19,"x":0.25,"y":-0.564},{"c":119,"b":-0.19,"x":0.224,"y":-0.628},{"c":119,"b":-0.19,"x":0.25,"y":-0.692},{"c":119,"b":-0.19,"x":0.314,"y":-0.718},{"c":119,"b":-0.19,"x":0.378,"y":-0.692},
{"c":121,"b":0.03,"x":1.236,"y":-0.628},{"c":121,"b":0.03,"x":1.192,"y":-0.378},{"c":121,"b":0.03,"x":0.942,"y":-0.334},{"c":121,"b":0.03,"x":0.692,"y":-0.378},{"c":121,"b":0.03,"x":0.648,"y":-0.628},{"c":121,"b":0.03,"x":0.692,"y":-0.878},{"c":121,"b":0.03,"x":0.942,"y":-0.922},{"c":121,"b":0.03,"x":1.192,"y":-0.878},
{"c":122,"b":0.05,"x":1.216,"y":-0.628},{"c":122,"b":0.05,"x":1.163,"y":-0.407},{"c":122,"b":0.05,"x":0.942,"y":-0.354},{"c":122,"b":0.05,"x":0.721,"y":-0.407},{"c":122,"b":0.05,"x":0.668,"y":-0.628},{"c":122,"b":0.05,"x":0.721,"y":-0.849},{"c":122,"b":0.05,"x":0.942,"y":-0.902},{"c":122,"b":0.05,"x":1.163,"y":-0.849},
{"c":123,"b":0.07,"x":1.195,"y":-0.628},{"c":123,"b":0.07,"x":1.14,"y":-0.43},{"c":123,"b":0.07,"x":0.942,"y":-0.375},{"c":123,"b":0.07,"x":0.744,"y":-0.43},{"c":123,"b":0.07,"x":0.689,"y":-0.628},{"c":123,"b":0.07,"x":0.744,"y":-0.826},{"c":123,"b":0.07,"x":0.942,"y":-0.881},{"c":123,"b":0.07,"x":1.14,"y":-0.826},
{"c":124,"b":0.09,"x":1.174,"y":-0.628},{"c":124,"b":0.09,"x":1.119,"y":-0.451},{"c":124,"b":0.09,"x":0.942,"y":-0.396},{"c":124,"b":0.09,"x":0.765,"y":-0.451},{"c":124,"b":0.09,"x":0.71,"y":-0.628},{"c":124,"b":0.09,"x":0.765,"y":-0.805},{"c":124,"b":0.09,"x":0.942,"y":-0.86},{"c":124,"b":0.09,"x":1.119,"y":-0.805},
{"c":125,"b":0.11,"x":1.151,"y":-0.628},{"c":125,"b":0.11,"x":1.099,"y":-0.471},{"c":125,"b":0.11,"x":0.942,"y":-0.419},{"c":125,"b":0.11,"x":0.785,"y":-0.471},{"c":125,"b":0.11,"x":0.733,"y":-0.628},{"c":125,"b":0.11,"x":0.785,"y":-0.785},{"c":125,"b":0.11,"x":0.942,"y":-0.837},{"c":125,"b":0.11,"x":1.099,"y":-0.785},
{"c":126,"b":0.13,"x":1.128,"y":-0.628},{"c":126,"b":0.13,"x":1.079,"y":-0.491},{"c":126,"b":0.13,"x":0.942,"y":-0.442},{"c":126,"b":0.13,"x":0.805,"y":-0.491},{"c":126,"b":0.13,"x":0.756,"y":-0.628},{"c":126,"b":0.13,"x":0.805,"y":-0.765},{"c":126,"b":0.13,"x":0.942,"y":-0.814},{"c":126,"b":0.13,"x":1.079,"y":-0.765},
{"c":127,"b":0.15,"x":1.101,"y":-0.628},{"c":127,"b":0.15,"x":1.058,"y":-0.512},{"c":127,"b":0.15,"x":0.942,"y":-0.469},{"c":127,"b":0.15,"x":0.826,"y":-0.512},{"c":127,"b":0.15,"x":0.783,"y":-0.628},{"c":127,"b":0.15,"x":0.826,"y":-0.744},{"c":127,"b":0.15,"x":0.942,"y":-0.787},{"c":127,"b":0.15,"x":1.058,"y":-0.744},
{"c":128,"b":0.17,"x":1.071,"y":-0.628},{"c":128,"b":0.17,"x":1.035,"y":-0.535},{"c":128,"b":0.17,"x":0.942,"y":-0.499},{"c":128,"b":0.17,"x":0.849,"y":-0.535},{"c":128,"b":0.17,"x":0.813,"y":-0.628},{"c":128,"b":0.17,"x":0.849,"y":-0.721},{"c":128,"b":0.17,"x":0.942,"y":-0.757},{"c":128,"b":0.17,"x":1.035,"y":-0.721},
{"c":129,"b":0.19,"x":1.032,"y":-0.628},{"c":129,"b":0.19,"x":1.006,"y":-0.564},{"c":129,"b":0.19,"x":0.942,"y":-0.538},{"c":129,"b":0.19,"x":0.878,"y":-0.564},{"c":129,"b":0.19,"x":0.852,"y":-0.628},{"c":129,"b":0.19,"x":0.878,"y":-0.692},{"c":129,"b":0.19,"x":0.942,"y":-0.718},{"c":129,"b":0.19,"x":1.006,"y":-0.692},
{"c":131,"b":0.03,"x":-0.648,"y":1.257},{"c":131,"b":0.03,"x":-0.692,"y":1.507},{"c":131,"b":0.03,"x":-0.942,"y":1.551},{"c":131,"b":0.03,"x":-1.192,"y":1.507},{"c":131,"b":0.03,"x":-1.236,"y":1.257},{"c":131,"b":0.03,"x":-1.192,"y":1.007},{"c":131,"b":0.03,"x":-0.942,"y":0.963},{"c":131,"b":0.03,"x":-0.692,"y":1.007},
{"c":132,"b":0.05,"x":-0.668,"y":1.257},{"c":132,"b":0.05,"x":-0.721,"y":1.478},{"c":132,"b":0.05,"x":-0.942,"y":1.531},{"c":132,"b":0.05,"x":-1.163,"y":1.478},{"c":132,"b":0.05,"x":-1.216,"y":1.257},{"c":132,"b":0.05,"x":-1.163,"y":1.036},{"c":132,"b":0.05,"x":-0.942,"y":0.983},{"c":132,"b":0.05,"x":-0.721,"y":1.036},
{"c":141,"b":-0.03,"x":-0.02,"y":1.257},{"c":141,"b":-0.03,"x":-0.064,"y":1.507},{"c":141,"b":-0.03,"x":-0.314,"y":1.551},{"c":141,"b":-0.03,"x":-0.564,"y":1.507},{"c":141,"b":-0.03,"x":-0.608,"y":1.257},{"c":141,"b":-0.03,"x":-0.564,"y":1.007},{"c":141,"b":-0.03,"x":-0.314,"y":0.963},{"c":141,"b":-0.03,"x":-0.064,"y":1.007},
{"c":142,"b":-0.05,"x":-0.04,"y":1.257},{"c":142,"b":-0.05,"x":-0.093,"y":1.478},{"c":142,"b":-0.05,"x":-0.314,"y":1.531},{"c":142,"b":-0.05,"x":-0.535,"y":1.478},{"c":142,"b":-0.05,"x":-0.588,"y":1.257},{"c":142,"b":-0.05,"x":-0.535,"y":1.036},{"c":142,"b":-0.05,"x":-0.314,"y":0.983},{"c":142,"b":-0.05,"x":-0.093,"y":1.036},
{"c":151,"b":0.03,"x":0.608,"y":1.257},{"c":151,"b":0.03,"x":0.564,"y":1.507},{"c":151,"b":0.03,"x":0.314,"y":1.551},{"c":151,"b":0.03,"x":0.064,"y":1.507},{"c":151,"b":0.03,"x":0.02,"y":1.257},{"c":151,"b":0.03,"x":0.064,"y":1.007},{"c":151,"b":0.03,"x":0.314,"y":0.963},{"c":151,"b":0.03,"x":0.564,"y":1.007},
{"c":152,"b":0.05,"x":0.588,"y":1.257},{"c":152,"b":0.05,"x":0.535,"y":1.478},{"c":152,"b":0.05,"x":0.314,"y":1.531},{"c":152,"b":0.05,"x":0.093,"y":1.478},{"c":152,"b":0.05,"x":0.04,"y":1.257},{"c":152,"b":0.05,"x":0.093,"y":1.036},{"c":152,"b":0.05,"x":0.314,"y":0.983},{"c":152,"b":0.05,"x":0.535,"y":1.036},
{"c":161,"b":-0.03,"x":1.236,"y":1.257},{"c":161,"b":-0.03,"x":1.192,"y":1.507},{"c":161,"b":-0.03,"x":0.942,"y":1.551},{"c":161,"b":-0.03,"x":0.692,"y":1.507},{"c":161,"b":-0.03,"x":0.648,"y":1.257},{"c":161,"b":-0.03,"x":0.692,"y":1.007},{"c":161,"b":-0.03,"x":0.942,"y":0.963},{"c":161,"b":-0.03,"x":1.192,"y":1.007},
{"c":162,"b":-0.05,"x":1.216,"y":1.257},{"c":162,"b":-0.05,"x":1.163,"y":1.478},{"c":162,"b":-0.05,"x":0.942,"y":1.531},{"c":162,"b":-0.05,"x":0.721,"y":1.478},{"c":162,"b":-0.05,"x":0.668,"y":1.257},{"c":162,"b":-0.05,"x":0.721,"y":1.036},{"c":162,"b":-0.05,"x":0.942,"y":0.983},{"c":162,"b":-0.05,"x":1.163,"y":1.036},
{"c":171,"b":0.03,"x":-0.648,"y":-1.257},{"c":171,"b":0.03,"x":-0.692,"y":-1.007},{"c":171,"b":0.03,"x":-0.942,"y":-0.963},{"c":171,"b":0.03,"x":-1.192,"y":-1.007},{"c":171,"b":0.03,"x":-1.236,"y":-1.257},{"c":171,"b":0.03,"x":-1.192,"y":-1.507},{"c":171,"b":0.03,"x":-0.942,"y":-1.551},{"c":171,"b":0.03,"x":-0.692,"y":-1.507},
{"c":172,"b":0.05,"x":-0.668,"y":-1.257},{"c":172,"b":0.05,"x":-0.721,"y":-1.036},{"c":172,"b":0.05,"x":-0.942,"y":-0.983},{"c":172,"b":0.05,"x":-1.163,"y":-1.036},{"c":172,"b":0.05,"x":-1.216,"y":-1.257},{"c":172,"b":0.05,"x":-1.163,"y":-1.478},{"c":172,"b":0.05,"x":-0.942,"y":-1.531},{"c":172,"b":0.05,"x":-0.721,"y":-1.478},
{"c":181,"b":-0.03,"x":-0.02,"y":-1.257},{"c":181,"b":-0.03,"x":-0.064,"y":-1.007},{"c":181,"b":-0.03,"x":-0.314,"y":-0.963},{"c":181,"b":-0.03,"x":-0.564,"y":-1.007},{"c":181,"b":-0.03,"x":-0.608,"y":-1.257},{"c":181,"b":-0.03,"x":-0.564,"y":-1.507},{"c":181,"b":-0.03,"x":-0.314,"y":-1.551},{"c":181,"b":-0.03,"x":-0.064,"y":-1.507},
{"c":182,"b":-0.05,"x":-0.04,"y":-1.257},{"c":182,"b":-0.05,"x":-0.093,"y":-1.036},{"c":182,"b":-0.05,"x":-0.314,"y":-0.983},{"c":182,"b":-0.05,"x":-0.535,"y":-1.036},{"c":182,"b":-0.05,"x":-0.588,"y":-1.257},{"c":182,"b":-0.05,"x":-0.535,"y":-1.478},{"c":182,"b":-0.05,"x":-0.314,"y":-1.531},{"c":182,"b":-0.05,"x":-0.093,"y":-1.478},
{"c":191,"b":0.03,"x":0.608,"y":-1.257},{"c":191,"b":0.03,"x":0.564,"y":-1.007},{"c":191,"b":0.03,"x":0.314,"y":-0.963},{"c":191,"b":0.03,"x":0.064,"y":-1.007},{"c":191,"b":0.03,"x":0.02,"y":-1.257},{"c":191,"b":0.03,"x":0.064,"y":-1.507},{"c":191,"b":0.03,"x":0.314,"y":-1.551},{"c":191,"b":0.03,"x":0.564,"y":-1.507},
{"c":192,"b":0.05,"x":0.588,"y":-1.257},{"c":192,"b":0.05,"x":0.535,"y":-1.036},{"c":192,"b":0.05,"x":0.314,"y":-0.983},{"c":192,"b":0.05,"x":0.093,"y":-1.036},{"c":192,"b":0.05,"x":0.04,"y":-1.257},{"c":192,"b":0.05,"x":0.093,"y":-1.478},{"c":192,"b":0.05,"x":0.314,"y":-1.531},{"c":192,"b":0.05,"x":0.535,"y":-1.478},
{"c":201,"b":-0.03,"x":1.236,"y":-1.257},{"c":201,"b":-0.03,"x":1.192,"y":-1.007},{"c":201,"b":-0.03,"x":0.942,"y":-0.963},{"c":201,"b":-0.03,"x":0.692,"y":-1.007},{"c":201,"b":-0.03,"x":0.648,"y":-1.257},{"c":201,"b":-0.03,"x":0.692,"y":-1.507},{"c":201,"b":-0.03,"x":0.942,"y":-1.551},{"c":201,"b":-0.03,"x":1.192,"y":-1.507},
{"c":202,"b":-0.05,"x":1.216,"y":-1.257},{"c":202,"b":-0.05,"x":1.163,"y":-1.036},{"c":202,"b":-0.05,"x":0.942,"y":-0.983},{"c":202,"b":-0.05,"x":0.721,"y":-1.036},{"c":202,"b":-0.05,"x":0.668,"y":-1.257},{"c":202,"b":-0.05,"x":0.721,"y":-1.478},{"c":202,"b":-0.05,"x":0.942,"y":-1.531},{"c":202,"b":-0.05,"x":1.163,"y":-1.478}
]},
"hconcat":[{"width":434,"height":431,"title":{"text":"How2matplotlib.com - Terrain Contour Map","anchor":"middle","offset":-2},"layer":[
{"data":{"name":"base"},"mark":{"type":"rect","strokeWidth":0.6},"encoding":{"x":{"field":"x","type":"quantitative","scale":{"domain":[-1,1],"nice":false,"zero":false},"axis":{"title":"X","values":[-1,-0.75,-0.5,-0.25,0,0.25,0.5,0.75,1],"format":".2f","labelPadding":3,"titlePadding":7}},"x2":{"field":"x2"},"y":{"field":"y","type":"quantitative","scale":{"domain":[-1,1],"nice":false,"zero":false},"axis":{"title":"Y","values":[-1,-0.75,-0.5,-0.25,0,0.25,0.5,0.75,1],"format":".2f"}},"y2":{"field":"y2"},"stroke":{"field":"b","type":"quantitative","legend":null,"scale":{"type":"threshold","domain":[-0.18,-0.16,-0.14,-0.12,-0.1,-0.08,-0.06,-0.04,-0.02,0,0.02,0.04,0.06,0.08,0.1,0.12,0.14,0.16,0.18],"range":["#2b44aa","#1a66cc","#0888ee","#00a6d9","#00bf8c","#1ad16b","#4ddb75","#80e680","#b3f08a","#e6fa94","#f2ef92","#d9ce84","#bfad77","#a68d69","#8c6c5b","#8c6c65","#a68d87","#bfadaa","#d9cecc","#f2efee"]}},"fill":{"field":"b","type":"quantitative","legend":null,"scale":{"type":"threshold","domain":[-0.18,-0.16,-0.14,-0.12,-0.1,-0.08,-0.06,-0.04,-0.02,0,0.02,0.04,0.06,0.08,0.1,0.12,0.14,0.16,0.18],"range":["#2b44aa","#1a66cc","#0888ee","#00a6d9","#00bf8c","#1ad16b","#4ddb75","#80e680","#b3f08a","#e6fa94","#f2ef92","#d9ce84","#bfad77","#a68d69","#8c6c5b","#8c6c65","#a68d87","#bfadaa","#d9cecc","#f2efee"]}}}},
{"data":{"name":"lines"},"transform":[{"window":[{"op":"row_number","as":"i"}]}],"mark":{"type":"line","interpolate":"cardinal-closed","clip":true,"strokeWidth":0},"encoding":{"x":{"field":"x","type":"quantitative"},"y":{"field":"y","type":"quantitative"},"detail":{"field":"c"},"order":{"field":"i","type":"quantitative"},"fill":{"field":"b","type":"quantitative","legend":null,"scale":{"type":"threshold","domain":[-0.18,-0.16,-0.14,-0.12,-0.1,-0.08,-0.06,-0.04,-0.02,0,0.02,0.04,0.06,0.08,0.1,0.12,0.14,0.16,0.18],"range":["#2b44aa","#1a66cc","#0888ee","#00a6d9","#00bf8c","#1ad16b","#4ddb75","#80e680","#b3f08a","#e6fa94","#f2ef92","#d9ce84","#bfad77","#a68d69","#8c6c5b","#8c6c65","#a68d87","#bfadaa","#d9cecc","#f2efee"]}}}},
{"data":{"name":"frame"},"mark":{"type":"rect","fill":null,"stroke":"#000","strokeWidth":0.8},"encoding":{"x":{"field":"x","type":"quantitative"},"x2":{"field":"x2"},"y":{"field":"y","type":"quantitative"},"y2":{"field":"y2"}}}
]},
{"width":21,"height":431,"layer":[{"data":{"values":[{"y":-0.2,"y2":-0.18,"b":-0.19},{"y":-0.18,"y2":-0.16,"b":-0.17},{"y":-0.16,"y2":-0.14,"b":-0.15},{"y":-0.14,"y2":-0.12,"b":-0.13},{"y":-0.12,"y2":-0.1,"b":-0.11},{"y":-0.1,"y2":-0.08,"b":-0.09},{"y":-0.08,"y2":-0.06,"b":-0.07},{"y":-0.06,"y2":-0.04,"b":-0.05},{"y":-0.04,"y2":-0.02,"b":-0.03},{"y":-0.02,"y2":0,"b":-0.01},{"y":0,"y2":0.02,"b":0.01},{"y":0.02,"y2":0.04,"b":0.03},{"y":0.04,"y2":0.06,"b":0.05},{"y":0.06,"y2":0.08,"b":0.07},{"y":0.08,"y2":0.1,"b":0.09},{"y":0.1,"y2":0.12,"b":0.11},{"y":0.12,"y2":0.14,"b":0.13},{"y":0.14,"y2":0.16,"b":0.15},{"y":0.16,"y2":0.18,"b":0.17},{"y":0.18,"y2":0.2,"b":0.19}]},"mark":{"type":"rect","strokeWidth":0.6},"encoding":{"y":{"field":"y","type":"quantitative","scale":{"domain":[-0.2,0.2],"nice":false,"zero":false},"axis":{"orient":"right","title":null,"values":[-0.18,-0.12,-0.06,0,0.06,0.12,0.18],"format":".2f","domain":false}},"y2":{"field":"y2"},"stroke":{"field":"b","type":"quantitative","legend":null,"scale":{"type":"threshold","domain":[-0.18,-0.16,-0.14,-0.12,-0.1,-0.08,-0.06,-0.04,-0.02,0,0.02,0.04,0.06,0.08,0.1,0.12,0.14,0.16,0.18],"range":["#2b44aa","#1a66cc","#0888ee","#00a6d9","#00bf8c","#1ad16b","#4ddb75","#80e680","#b3f08a","#e6fa94","#f2ef92","#d9ce84","#bfad77","#a68d69","#8c6c5b","#8c6c65","#a68d87","#bfadaa","#d9cecc","#f2efee"]}},"fill":{"field":"b","type":"quantitative","legend":null,"scale":{"type":"threshold","domain":[-0.18,-0.16,-0.14,-0.12,-0.1,-0.08,-0.06,-0.04,-0.02,0,0.02,0.04,0.06,0.08,0.1,0.12,0.14,0.16,0.18],"range":["#2b44aa","#1a66cc","#0888ee","#00a6d9","#00bf8c","#1ad16b","#4ddb75","#80e680","#b3f08a","#e6fa94","#f2ef92","#d9ce84","#bfad77","#a68d69","#8c6c5b","#8c6c65","#a68d87","#bfadaa","#d9cecc","#f2efee"]}}}},
{"data":{"values":[{"y":-0.2,"y2":0.2}]},"mark":{"type":"rect","fill":null,"stroke":"#000","strokeWidth":0.8},"encoding":{"y":{"field":"y","type":"quantitative"},"y2":{"field":"y2"}}}
]}
]}
